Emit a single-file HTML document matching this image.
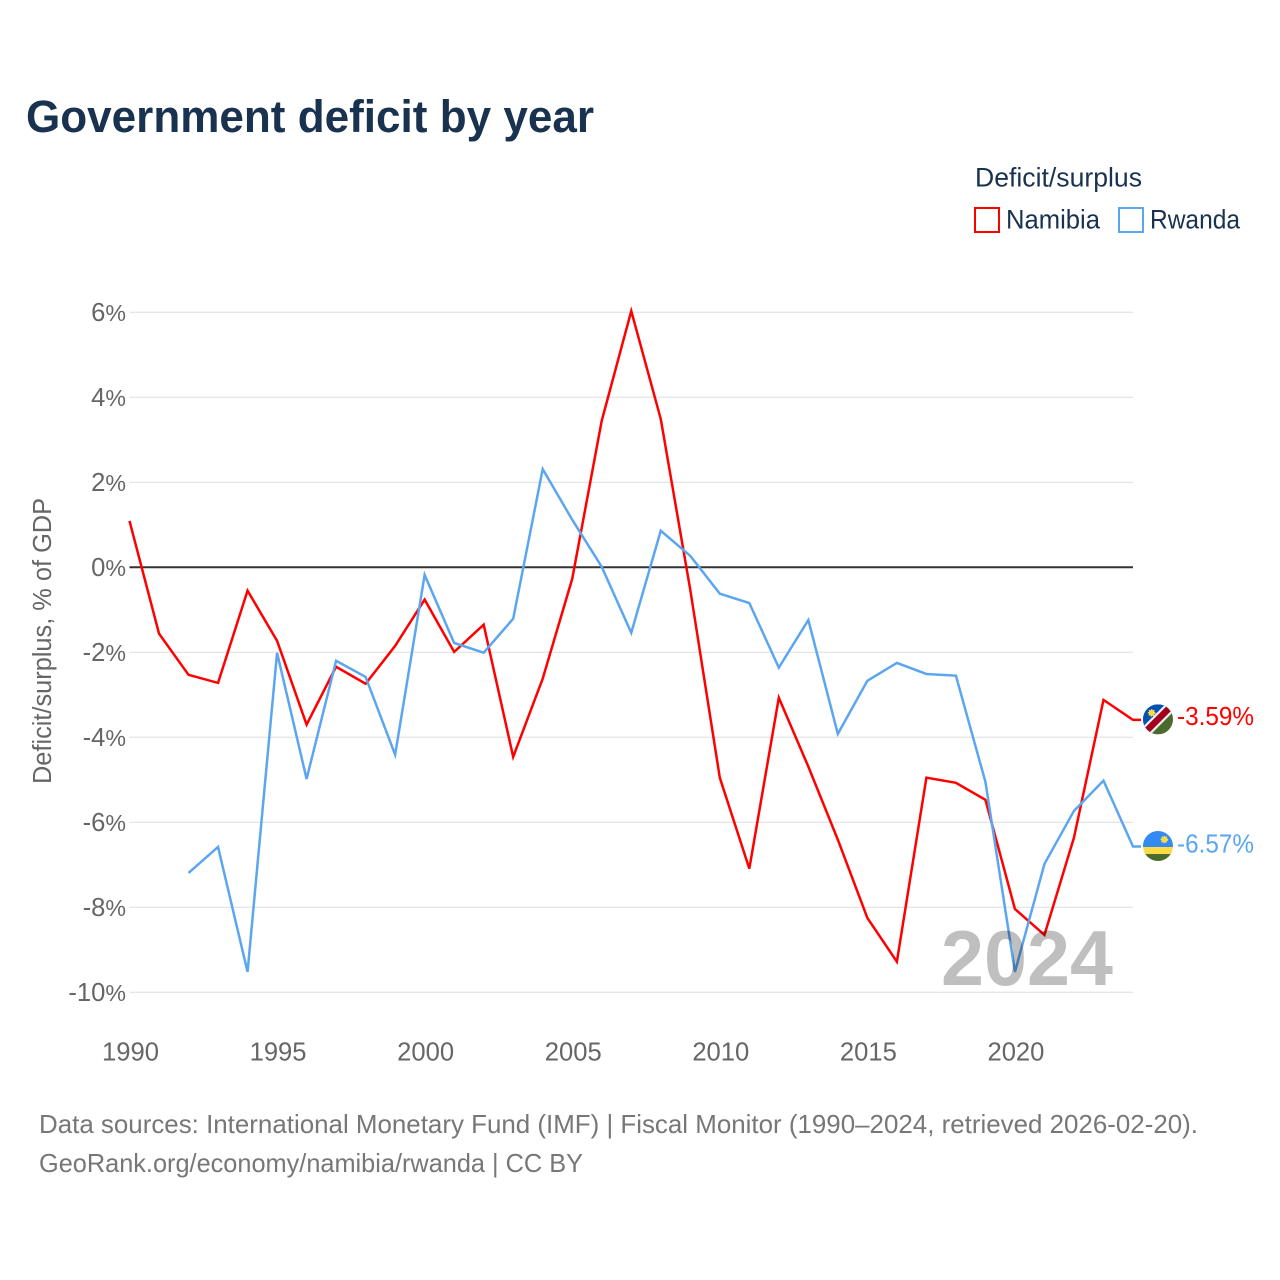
<!DOCTYPE html>
<html lang="en">
<head>
<meta charset="utf-8">
<title>Government deficit by year</title>
<style>
  html, body { margin: 0; padding: 0; background: #fff; }
  svg { display: block; font-family: "Liberation Sans", sans-serif; }
</style>
</head>
<body>
<svg id="chart" width="1280" height="1280" viewBox="0 0 1280 1280" xmlns="http://www.w3.org/2000/svg">
  <rect width="1280" height="1280" fill="#fff"/>
  <text x="26" y="132" font-size="45" font-weight="700" fill="#19324f" textLength="568" lengthAdjust="spacingAndGlyphs">Government deficit by year</text>

  <g>
    <text x="975" y="186.5" font-size="26.5" fill="#19324f" textLength="167" lengthAdjust="spacingAndGlyphs">Deficit/surplus</text>
    <g>
      <rect x="975" y="208" width="24" height="24" fill="#fff" stroke="#ff0000" stroke-width="2"/>
      <text x="1006" y="228.5" font-size="26.5" fill="#19324f" textLength="94" lengthAdjust="spacingAndGlyphs">Namibia</text>
    </g>
    <g>
      <rect x="1119" y="208" width="24" height="24" fill="#fff" stroke="#5ba6ee" stroke-width="2"/>
      <text x="1150" y="228.5" font-size="26.5" fill="#19324f" textLength="90" lengthAdjust="spacingAndGlyphs">Rwanda</text>
    </g>
  </g>

  <text transform="translate(51 641) rotate(-90)" text-anchor="middle" font-size="25.5" fill="#666" textLength="286" lengthAdjust="spacingAndGlyphs">Deficit/surplus, % of GDP</text>

  <g id="grid"></g>
  <g id="yticks"></g>
  <g id="xticks"></g>
  <g id="series"></g>

  <text x="941" y="985" font-size="78" font-weight="700" fill="#000" fill-opacity="0.25" textLength="172" lengthAdjust="spacingAndGlyphs">2024</text>

  <defs>
    <clipPath id="clip-namibia"><circle id="clip-namibia-circle" cx="1158" cy="719" r="15"/></clipPath>
    <clipPath id="clip-rwanda"><circle id="clip-rwanda-circle" cx="1158" cy="846" r="15"/></clipPath>
  </defs>

  <g id="flag-namibia" clip-path="url(#clip-namibia)">
    <rect x="1143" y="704" width="30" height="30" fill="#4a6b2c"/>
    <polygon points="1143,704 1173,704 1143,734" fill="#0052b4"/>
    <line x1="1139" y1="738" x2="1177" y2="700" stroke="#f0f0f0" stroke-width="11"/>
    <line x1="1139" y1="738" x2="1177" y2="700" stroke="#a2001d" stroke-width="6.5"/>
    <circle cx="1151.7" cy="712.5" r="3" fill="#ffda44" stroke="#ffda44" stroke-width="1.6" stroke-dasharray="1.2 1"/>
  </g>
  <g id="flag-rwanda" clip-path="url(#clip-rwanda)">
    <rect x="1143" y="831" width="30" height="16" fill="#338af3"/>
    <rect x="1143" y="847" width="30" height="7" fill="#ffda44"/>
    <rect x="1143" y="854" width="30" height="8" fill="#4a6b2c"/>
    <circle cx="1164.3" cy="839.5" r="3" fill="#ffda44" stroke="#ffda44" stroke-width="1.6" stroke-dasharray="1.2 1"/>
  </g>

  <g id="endlabels"></g>

  <text x="39" y="1133" font-size="26" fill="#777" textLength="1159" lengthAdjust="spacingAndGlyphs">Data sources: International Monetary Fund (IMF) | Fiscal Monitor (1990–2024, retrieved 2026-02-20).</text>
  <text x="39" y="1172" font-size="26" fill="#777" textLength="544" lengthAdjust="spacingAndGlyphs">GeoRank.org/economy/namibia/rwanda | CC BY</text>
</svg>

<script>
const years = [1990,1991,1992,1993,1994,1995,1996,1997,1998,1999,2000,2001,2002,2003,2004,2005,2006,2007,2008,2009,2010,2011,2012,2013,2014,2015,2016,2017,2018,2019,2020,2021,2022,2023,2024];
const namibiaValues = [1.09,-1.56,-2.53,-2.72,-0.55,-1.73,-3.70,-2.34,-2.74,-1.85,-0.76,-1.99,-1.35,-4.46,-2.62,-0.27,3.45,6.03,3.49,-0.53,-4.95,-7.09,-3.07,-4.69,-6.41,-8.25,-9.28,-4.95,-5.07,-5.47,-8.04,-8.65,-6.36,-3.12,-3.59];
const rwandaValues = [null,null,-7.19,-6.58,-9.52,-2.01,-4.98,-2.20,-2.58,-4.41,-0.18,-1.78,-2.01,-1.21,2.31,1.12,0.01,-1.54,0.86,0.27,-0.62,-0.84,-2.36,-1.24,-3.92,-2.67,-2.25,-2.51,-2.55,-5.05,-9.52,-6.98,-5.73,-5.02,-6.57];
const yTickValues = [6,4,2,0,-2,-4,-6,-8,-10];
const xTickValues = [1990,1995,2000,2005,2010,2015,2020];

const NS = 'http://www.w3.org/2000/svg';
const xLeft = 129.5, xRight = 1133, yTop = 312.3, yBottom = 992.3;
const xScale = function (year) {
  return xLeft + (year - years[0]) * (xRight - xLeft) / (years[years.length - 1] - years[0]);
};
const yScale = function (value) {
  return yTop + (yTickValues[0] - value) * (yBottom - yTop) / (yTickValues[0] - yTickValues[yTickValues.length - 1]);
};

const gridGroup = document.getElementById('grid');
const yTickGroup = document.getElementById('yticks');
const xTickGroup = document.getElementById('xticks');
const seriesGroup = document.getElementById('series');
const endGroup = document.getElementById('endlabels');

yTickValues.forEach(function (v) {
  if (v !== 0) {
    const gl = document.createElementNS(NS, 'line');
    
    
    gl.setAttribute('x1', xLeft);
    gl.setAttribute('x2', xRight);
    gl.setAttribute('y1', yScale(v));
    gl.setAttribute('y2', yScale(v));
    gl.setAttribute('stroke', '#e6e6e6');
    gl.setAttribute('stroke-width', '1.3');
    gridGroup.appendChild(gl);
  }
  const t = document.createElementNS(NS, 'text');
  
  
  t.setAttribute('x', 126);
  t.setAttribute('y', yScale(v) + 8.5);
  t.setAttribute('text-anchor', 'end');
  t.setAttribute('font-size', '25.6');
  t.setAttribute('fill', '#666');
  t.textContent = v;
  const pct = document.createElementNS(NS, 'tspan');
  pct.setAttribute('font-size', '23.2');
  pct.textContent = '%';
  t.appendChild(pct);
  yTickGroup.appendChild(t);
});

const zeroLine = document.createElementNS(NS, 'line');


zeroLine.setAttribute('x1', xLeft);
zeroLine.setAttribute('x2', xRight);
zeroLine.setAttribute('y1', yScale(0));
zeroLine.setAttribute('y2', yScale(0));
zeroLine.setAttribute('stroke', '#333');
zeroLine.setAttribute('stroke-width', '2');
gridGroup.appendChild(zeroLine);

xTickValues.forEach(function (yr) {
  const t = document.createElementNS(NS, 'text');
  
  
  t.setAttribute('x', xScale(yr) + 1);
  t.setAttribute('y', 1060.5);
  t.setAttribute('text-anchor', 'middle');
  t.setAttribute('font-size', '25.6');
  t.setAttribute('fill', '#666');
  t.textContent = yr;
  xTickGroup.appendChild(t);
});

function pathFor(values) {
  let d = '';
  values.forEach(function (v, i) {
    if (v === null) return;
    d += (d ? 'L' : 'M') + xScale(years[i]).toFixed(2) + ' ' + yScale(v).toFixed(2);
  });
  return d;
}

const namibiaLine = document.createElementNS(NS, 'path');


namibiaLine.setAttribute('d', pathFor(namibiaValues) + 'h8');
namibiaLine.setAttribute('fill', 'none');
namibiaLine.setAttribute('stroke', '#ff0000');
namibiaLine.setAttribute('stroke-width', '2.5');
namibiaLine.setAttribute('stroke-linejoin', 'miter');
seriesGroup.appendChild(namibiaLine);

const rwandaLine = document.createElementNS(NS, 'path');


rwandaLine.setAttribute('d', pathFor(rwandaValues) + 'h8');
rwandaLine.setAttribute('fill', 'none');
rwandaLine.setAttribute('stroke', '#5ba6ee');
rwandaLine.setAttribute('stroke-width', '2.5');
rwandaLine.setAttribute('stroke-linejoin', 'miter');
seriesGroup.appendChild(rwandaLine);

const namibiaLast = namibiaValues[namibiaValues.length - 1];
const rwandaLast = rwandaValues[rwandaValues.length - 1];

const namibiaLabel = document.createElementNS(NS, 'text');


namibiaLabel.setAttribute('x', 1177);
namibiaLabel.setAttribute('y', yScale(namibiaLast) + 5);
namibiaLabel.setAttribute('font-size', '25.6');
namibiaLabel.setAttribute('fill', '#ff0000');
namibiaLabel.setAttribute('textLength', '77');
namibiaLabel.setAttribute('lengthAdjust', 'spacingAndGlyphs');
namibiaLabel.textContent = namibiaLast.toFixed(2) + '%';
endGroup.appendChild(namibiaLabel);

const rwandaLabel = document.createElementNS(NS, 'text');


rwandaLabel.setAttribute('x', 1177);
rwandaLabel.setAttribute('y', yScale(rwandaLast) + 6);
rwandaLabel.setAttribute('font-size', '25.6');
rwandaLabel.setAttribute('fill', '#5ba6ee');
rwandaLabel.setAttribute('textLength', '77');
rwandaLabel.setAttribute('lengthAdjust', 'spacingAndGlyphs');
rwandaLabel.textContent = rwandaLast.toFixed(2) + '%';
endGroup.appendChild(rwandaLabel);

const namibiaFlagOffset = yScale(namibiaLast) - 719.5;
document.getElementById('flag-namibia').setAttribute('transform', 'translate(0 ' + namibiaFlagOffset.toFixed(2) + ')');
const rwandaFlagOffset = yScale(rwandaLast) - 846.5;
document.getElementById('flag-rwanda').setAttribute('transform', 'translate(0 ' + rwandaFlagOffset.toFixed(2) + ')');
</script>
</body>
</html>
